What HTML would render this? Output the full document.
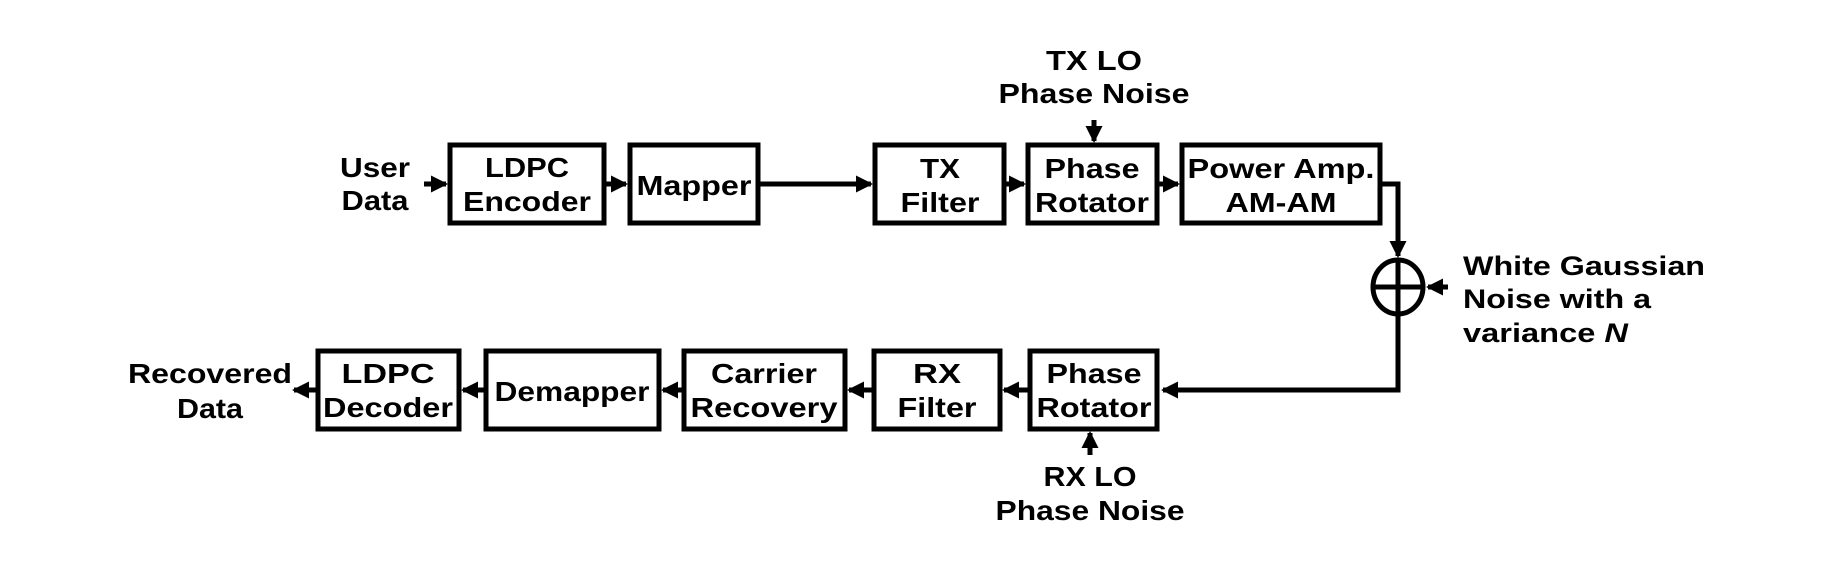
<!DOCTYPE html>
<html><head><meta charset="utf-8"><style>html,body{margin:0;padding:0;background:#fff}svg{display:block}</style></head>
<body>
<svg width="1826" height="562" viewBox="0 0 1826 562" xmlns="http://www.w3.org/2000/svg">
<defs>
<marker id="a" markerWidth="3.4" markerHeight="3.4" refX="3" refY="1.7" orient="auto" markerUnits="strokeWidth"><path d="M0,0 L3.4,1.7 L0,3.4 Z" fill="#000"/></marker>
</defs>
<g fill="#fff" stroke="#000" stroke-width="5">
<rect x="450" y="145" width="154" height="78"/>
<rect x="630" y="145" width="128" height="78"/>
<rect x="875" y="145" width="129" height="78"/>
<rect x="1028" y="145" width="129" height="78"/>
<rect x="1182" y="145" width="198" height="78"/>
<rect x="318" y="351" width="141" height="78"/>
<rect x="486" y="351" width="173" height="78"/>
<rect x="684" y="351" width="161" height="78"/>
<rect x="874" y="351" width="126" height="78"/>
<rect x="1030" y="351" width="127" height="78"/>
</g>
<g stroke="#000" stroke-width="5" fill="none">
<path d="M424,184 H446" marker-end="url(#a)"/>
<path d="M606,184 H626" marker-end="url(#a)"/>
<path d="M760,184 H871" marker-end="url(#a)"/>
<path d="M1006,184 H1024" marker-end="url(#a)"/>
<path d="M1159,184 H1178" marker-end="url(#a)"/>
<path d="M1094,120 V141" marker-end="url(#a)"/>
<path d="M1382,184 H1398 V256" marker-end="url(#a)"/>
<path d="M1448,287 H1428" marker-end="url(#a)"/>
<ellipse cx="1398" cy="287" rx="25" ry="27"/>
<path d="M1373,287 H1423 M1398,260 V314"/>
<path d="M1398,314 V390 H1163" marker-end="url(#a)"/>
<path d="M1028,390 H1004" marker-end="url(#a)"/>
<path d="M872,390 H849" marker-end="url(#a)"/>
<path d="M682,390 H663" marker-end="url(#a)"/>
<path d="M484,390 H463" marker-end="url(#a)"/>
<path d="M316,390 H294" marker-end="url(#a)"/>
<path d="M1090,455 V433" marker-end="url(#a)"/>
</g>
<g font-family="Liberation Sans, Arial, sans-serif" font-weight="bold" font-size="28" text-anchor="middle" fill="#000">
<text x="375" y="177" textLength="70" lengthAdjust="spacingAndGlyphs">User</text>
<text x="375" y="210" textLength="67" lengthAdjust="spacingAndGlyphs">Data</text>
<text x="527" y="177" textLength="84" lengthAdjust="spacingAndGlyphs">LDPC</text>
<text x="527" y="211" textLength="128" lengthAdjust="spacingAndGlyphs">Encoder</text>
<text x="694" y="195" textLength="115" lengthAdjust="spacingAndGlyphs">Mapper</text>
<text x="940" y="178" textLength="40" lengthAdjust="spacingAndGlyphs">TX</text>
<text x="940" y="212" textLength="79" lengthAdjust="spacingAndGlyphs">Filter</text>
<text x="1092" y="178" textLength="95" lengthAdjust="spacingAndGlyphs">Phase</text>
<text x="1092" y="212" textLength="114" lengthAdjust="spacingAndGlyphs">Rotator</text>
<text x="1281" y="178" textLength="187" lengthAdjust="spacingAndGlyphs">Power Amp.</text>
<text x="1281" y="212" textLength="111" lengthAdjust="spacingAndGlyphs">AM-AM</text>
<text x="1094" y="70" textLength="96" lengthAdjust="spacingAndGlyphs">TX LO</text>
<text x="1094" y="103" textLength="191" lengthAdjust="spacingAndGlyphs">Phase Noise</text>
<text x="210" y="383" textLength="164" lengthAdjust="spacingAndGlyphs">Recovered</text>
<text x="210" y="418" textLength="66" lengthAdjust="spacingAndGlyphs">Data</text>
<text x="388" y="383" textLength="93" lengthAdjust="spacingAndGlyphs">LDPC</text>
<text x="388" y="417" textLength="130" lengthAdjust="spacingAndGlyphs">Decoder</text>
<text x="572" y="401" textLength="155" lengthAdjust="spacingAndGlyphs">Demapper</text>
<text x="764" y="383" textLength="106" lengthAdjust="spacingAndGlyphs">Carrier</text>
<text x="764" y="417" textLength="147" lengthAdjust="spacingAndGlyphs">Recovery</text>
<text x="937" y="383" textLength="48" lengthAdjust="spacingAndGlyphs">RX</text>
<text x="937" y="417" textLength="79" lengthAdjust="spacingAndGlyphs">Filter</text>
<text x="1094" y="383" textLength="95" lengthAdjust="spacingAndGlyphs">Phase</text>
<text x="1094" y="417" textLength="115" lengthAdjust="spacingAndGlyphs">Rotator</text>
<text x="1090" y="486" textLength="93" lengthAdjust="spacingAndGlyphs">RX LO</text>
<text x="1090" y="520" textLength="189" lengthAdjust="spacingAndGlyphs">Phase Noise</text>
</g>
<g font-family="Liberation Sans, Arial, sans-serif" font-weight="bold" font-size="27" fill="#000">
<text x="1463" y="275" textLength="242" lengthAdjust="spacingAndGlyphs">White Gaussian</text>
<text x="1463" y="308" textLength="188" lengthAdjust="spacingAndGlyphs">Noise with a</text>
<text x="1463" y="342" textLength="165" lengthAdjust="spacingAndGlyphs">variance <tspan font-style="italic">N</tspan></text>
</g>
</svg>
</body></html>
